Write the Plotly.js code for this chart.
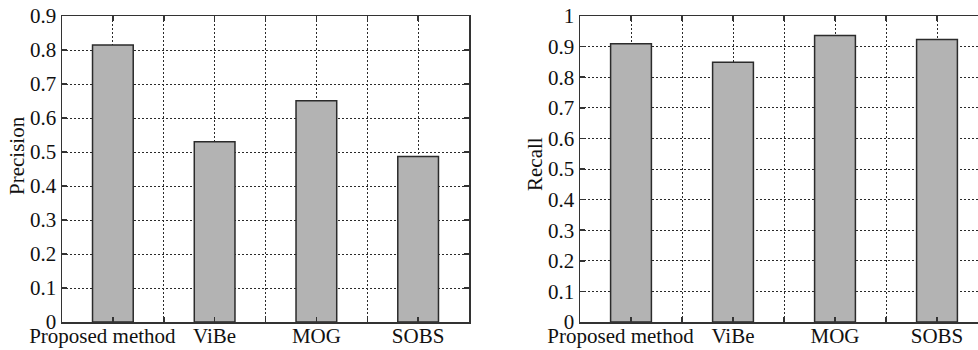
<!DOCTYPE html>
<html>
<head>
<meta charset="utf-8">
<script src="https://cdn.plot.ly/plotly-3.0.1.min.js"></script>
<style>
html,body{margin:0;padding:0;background:#fff;overflow:hidden;width:978px;height:350px;}
#chart{width:1000px;height:350px;}
</style>
</head>
<body>
<div id="chart"></div>
<script>
// Data
const categories = ["Proposed method", "ViBe", "MOG", "SOBS"];
const precision = [0.815, 0.530, 0.651, 0.487];
const recall = [0.909, 0.849, 0.936, 0.923];
const precisionTicks = [0, 0.1, 0.2, 0.3, 0.4, 0.5, 0.6, 0.7, 0.8, 0.9];
const recallTicks = [0, 0.1, 0.2, 0.3, 0.4, 0.5, 0.6, 0.7, 0.8, 0.9, 1];
const yTitles = ["Precision", "Recall"];

const pos = categories.map((c, i) => i + 1);
const gridVals = [];
const gridText = [];
categories.forEach((c, i) => {
  gridVals.push(i + 1);
  // first label sits slightly left of its bar in the reference
  gridText.push(i === 0 ? c + "\u00a0\u00a0\u00a0\u00a0" : c);
  if (i < categories.length - 1) { gridVals.push(i + 1.5); gridText.push(""); }
});

const FONT = "Liberation Serif, Times New Roman, serif";
const barStyle = {color: "#b3b3b3", line: {color: "#2b2b2b", width: 1.5}};

const traces = [
  {type: "bar", x: pos, y: precision, width: 0.4, marker: barStyle, xaxis: "x", yaxis: "y", hoverinfo: "skip"},
  {type: "bar", x: pos, y: recall, width: 0.4, marker: barStyle, xaxis: "x2", yaxis: "y2", hoverinfo: "skip"}
];

function xax(domain, anchor) {
  return {
    domain: domain, anchor: anchor, range: [0.5, 4.5],
    tickmode: "array", tickvals: gridVals, ticktext: gridText, tickangle: 0,
    showgrid: true, gridcolor: "#2a2a2a", gridwidth: 1, griddash: "2px,2px",
    showline: true, linecolor: "#333", linewidth: 1.5, mirror: "ticks",
    ticks: "inside", ticklen: 5, tickcolor: "#333", tickwidth: 1.5,
    ticklabelstandoff: -6,
    tickfont: {family: FONT, size: 21, color: "#111"},
    zeroline: false, fixedrange: true, automargin: false
  };
}
function yax(domain, anchor, range, vals) {
  return {
    domain: domain, anchor: anchor, range: range,
    tickmode: "array", tickvals: vals, ticktext: vals.map(v => String(v)),
    showgrid: true, gridcolor: "#2a2a2a", gridwidth: 1, griddash: "2px,2px",
    showline: true, linecolor: "#333", linewidth: 1.5, mirror: "ticks",
    ticks: "inside", ticklen: 5, tickcolor: "#333", tickwidth: 1.5,
    tickfont: {family: FONT, size: 21, color: "#111"},
    zeroline: false, fixedrange: true, automargin: false
  };
}

const yDom = [28 / 350, 334 / 350];
const layout = {
  width: 1000, height: 350,
  margin: {l: 0, r: 0, t: 0, b: 0},
  paper_bgcolor: "#fff", plot_bgcolor: "#fff",
  showlegend: false,
  xaxis: xax([62 / 1000, 469 / 1000], "y"),
  yaxis: yax(yDom, "x", [0, 0.9], precisionTicks),
  xaxis2: xax([580 / 1000, 988 / 1000], "y2"),
  yaxis2: yax(yDom, "x2", [0, 1], recallTicks),
  annotations: [
    {text: yTitles[0], xref: "paper", yref: "paper", x: 17 / 1000, y: 1 - 156 / 350,
     textangle: -90, showarrow: false, xanchor: "center", yanchor: "middle",
     font: {family: FONT, size: 21, color: "#111"}},
    {text: yTitles[1], xref: "paper", yref: "paper", x: 535 / 1000, y: 1 - 164 / 350,
     textangle: -90, showarrow: false, xanchor: "center", yanchor: "middle",
     font: {family: FONT, size: 21, color: "#111"}}
  ]
};

Plotly.newPlot("chart", traces, layout, {displayModeBar: false, staticPlot: true});
</script>
</body>
</html>
